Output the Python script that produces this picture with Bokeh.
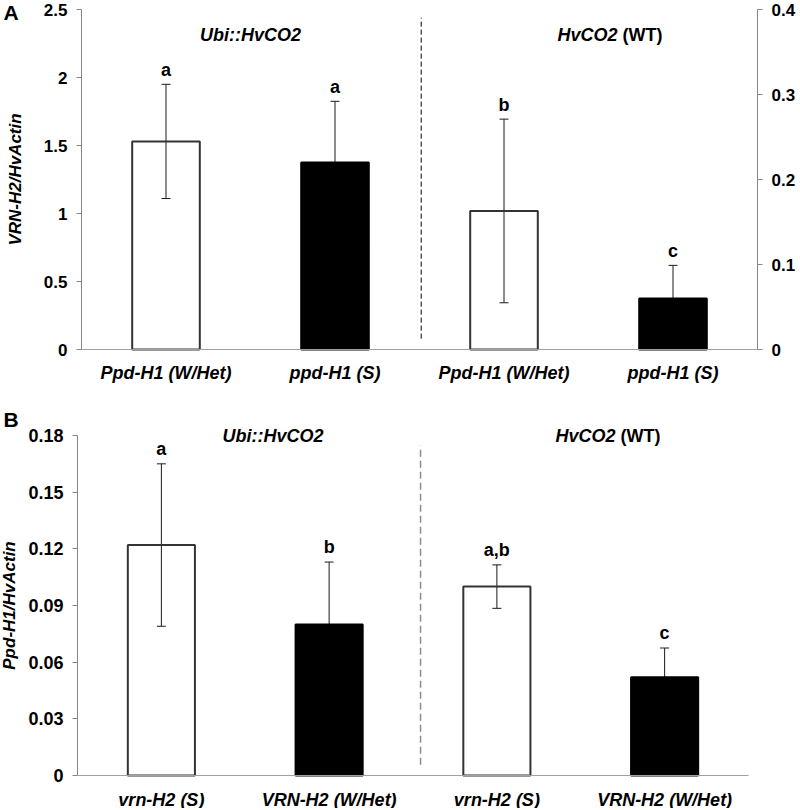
from bokeh.plotting import figure
from bokeh.models import (Range1d, LinearAxis, FixedTicker, ColumnDataSource,
                          Whisker, TeeHead, LabelSet, Label)
from bokeh.layouts import column
from bokeh.core.properties import value
from bokeh.embed import file_html
from bokeh.resources import INLINE

FONT = "Liberation Sans"

# ---------------- Panel A data ----------------
a_categories = ["Ppd-H1 (W/Het)", "ppd-H1 (S)", "Ppd-H1 (W/Het)", "ppd-H1 (S)"]
a_ubi_values = [1.53, 1.375]
a_ubi_errors = [0.42, 0.45]
a_ubi_letters = ["a", "a"]
a_wt_values = [0.163, 0.060]
a_wt_errors = [0.108, 0.039]
a_wt_letters = ["b", "c"]
a_left_ticks = [0, 0.5, 1, 1.5, 2, 2.5]
a_left_labels = ["0", "0.5", "1", "1.5", "2", "2.5"]
a_right_ticks = [0, 0.1, 0.2, 0.3, 0.4]
a_right_labels = ["0", "0.1", "0.2", "0.3", "0.4"]
a_ylabel = "VRN-H2/HvActin"

# ---------------- Panel B data ----------------
b_categories = ["vrn-H2 (S)", "VRN-H2 (W/Het)", "vrn-H2 (S)", "VRN-H2 (W/Het)"]
b_values = [0.122, 0.080, 0.100, 0.052]
b_errors = [0.043, 0.033, 0.0115, 0.0155]
b_letters = ["a", "b", "a,b", "c"]
b_ticks = [0, 0.03, 0.06, 0.09, 0.12, 0.15, 0.18]
b_labels = ["0", "0.03", "0.06", "0.09", "0.12", "0.15", "0.18"]
b_ylabel = "Ppd-H1/HvActin"

group_transgenic = "Ubi::HvCO2"
group_wt_gene = "HvCO2"
group_wt_suffix = "(WT)"

FILLS = [None, "black"]
OUTLINES = ["#333333", "black"]
AXIS_GRAY = "#868686"
W = 800


def fit_range(d0, d1, p0, p1, size):
    """Range whose data d0/d1 land on canvas pixels p0/p1 (pixels from the low end)."""
    k = (d1 - d0) / (p1 - p0)
    return Range1d(d0 - p0 * k, d0 + (size - p0) * k)


def style_y(ax, size, standoff):
    ax.axis_line_color = AXIS_GRAY
    ax.major_tick_line_color = AXIS_GRAY
    ax.major_tick_out = 5
    ax.major_tick_in = 0
    ax.minor_tick_line_color = None
    ax.major_label_text_font = FONT
    ax.major_label_text_font_style = "bold"
    ax.major_label_text_font_size = f"{size}px"
    ax.major_label_text_color = "black"
    ax.major_label_standoff = standoff


def make_panel(height, n_cats, x_px, y_px, y_end, ticks, labels, cats, cat_size, cat_standoff,
               ylabel, ylabel_standoff, tick_size):
    x_rng = fit_range(-0.5, n_cats - 0.5, x_px[0], x_px[1], W)
    y_rng = fit_range(0, y_end, height - y_px[0], height - y_px[1], height)
    p = figure(width=W, height=height, output_backend="svg", toolbar_location=None,
               x_range=x_rng, y_range=y_rng, x_axis_location=None, y_axis_location=None,
               min_border=0, title=None)
    p.xgrid.visible = False
    p.ygrid.visible = False
    p.outline_line_color = None
    p.background_fill_color = "white"
    p.border_fill_color = "white"

    ly = LinearAxis(fixed_location=-0.5, bounds=(0, y_end), ticker=FixedTicker(ticks=ticks))
    ly.major_label_overrides = dict(zip(ticks, labels))
    style_y(ly, tick_size, 9)
    ly.axis_label = ylabel
    ly.axis_label_text_font = FONT
    ly.axis_label_text_font_style = "bold italic"
    ly.axis_label_text_font_size = "17px"
    ly.axis_label_text_color = "black"
    ly.axis_label_standoff = ylabel_standoff
    p.add_layout(ly, "left")

    lx = LinearAxis(fixed_location=0, bounds=(-0.5, n_cats - 0.5),
                    ticker=FixedTicker(ticks=list(range(n_cats))))
    lx.major_label_overrides = {i: lab for i, lab in enumerate(cats)}
    lx.axis_line_color = "#a0a0a0"
    lx.major_tick_line_color = None
    lx.minor_tick_line_color = None
    lx.major_label_text_font = FONT
    lx.major_label_text_font_style = "bold italic"
    lx.major_label_text_font_size = f"{cat_size}px"
    lx.major_label_text_color = "black"
    lx.major_label_standoff = cat_standoff
    p.add_layout(lx, "below")
    return p


def add_bars(p, xs, vals, errs, letters, fs, letter_offset, range_name="default"):
    src = ColumnDataSource(dict(
        x=xs, top=vals,
        upper=[v + e for v, e in zip(vals, errs)],
        lower=[v - e for v, e in zip(vals, errs)],
        letter=letters,
        fill=[FILLS[i % 2] for i in xs],
        outline=[OUTLINES[i % 2] for i in xs],
    ))
    w = Whisker(source=src, base="x", upper="upper", lower="lower", dimension="height",
                line_color="#1a1a1a", line_width=1, level="underlay", y_range_name=range_name,
                upper_head=TeeHead(size=9, line_color="#1a1a1a", line_width=1),
                lower_head=TeeHead(size=9, line_color="#1a1a1a", line_width=1))
    p.add_layout(w)
    p.vbar(x="x", top="top", width=0.4, bottom=0, source=src, fill_color="fill",
           line_color="outline", line_width=2, y_range_name=range_name)
    ls = LabelSet(x="x", y="upper", text="letter", source=src, y_offset=letter_offset,
                  text_align="center", text_baseline="middle", y_range_name=range_name,
                  text_font=value(FONT), text_font_style="bold",
                  text_font_size=value(f"{fs}px"), text_color="black")
    p.add_layout(ls)


def add_group_titles(p, x_ubi, x_wt_join, y, fs):
    p.add_layout(Label(x=x_ubi, y=y, text=group_transgenic, text_align="center",
                       text_baseline="middle", text_font=FONT, text_font_style="bold italic",
                       text_font_size=f"{fs}px", text_color="black"))
    p.add_layout(Label(x=x_wt_join, y=y, text=group_wt_gene, text_align="right",
                       text_baseline="middle", text_font=FONT, text_font_style="bold italic",
                       text_font_size=f"{fs}px", text_color="black"))
    p.add_layout(Label(x=x_wt_join, y=y, x_offset=5, text=group_wt_suffix, text_align="left",
                       text_baseline="middle", text_font=FONT, text_font_style="bold",
                       text_font_size=f"{fs}px", text_color="black"))


def add_panel_letter(p, letter, x_px, y_px, height):
    xr, yr = p.x_range, p.y_range
    x = xr.start + (xr.end - xr.start) * x_px / W
    y = yr.start + (yr.end - yr.start) * (height - y_px) / height
    p.add_layout(Label(x=x, y=y, text=letter, text_align="left", text_baseline="middle",
                       text_font=FONT, text_font_style="bold", text_font_size="21px",
                       text_color="black"))


# ================= Panel A =================
HA = 388
pA = make_panel(HA, 4, (81, 757), (349, 9), a_left_ticks[-1], a_left_ticks, a_left_labels,
                a_categories, 18, 7, a_ylabel, 16, 17)
pA.extra_y_ranges = {"right": fit_range(0, a_right_ticks[-1], HA - 349, HA - 9, HA)}
ry = LinearAxis(y_range_name="right", fixed_location=3.5, bounds=(0, a_right_ticks[-1]),
                ticker=FixedTicker(ticks=a_right_ticks))
ry.major_label_overrides = dict(zip(a_right_ticks, a_right_labels))
style_y(ry, 17, 9)
pA.add_layout(ry, "right")

add_bars(pA, [0, 1], a_ubi_values, a_ubi_errors, a_ubi_letters, 18, 14)
add_bars(pA, [2, 3], a_wt_values, a_wt_errors, a_wt_letters, 18, 14, range_name="right")

pA.segment(x0=[1.51], y0=[0.08], x1=[1.51], y1=[2.44], line_color="black",
           line_width=1, line_dash="5 3")
add_group_titles(pA, 0.5, 2.672, 2.316, 18)
add_panel_letter(pA, "A", 3, 12, HA)

# ================= Panel B =================
HB = 420
pB = make_panel(HB, 4, (77, 748), (387, 47), b_ticks[-1], b_ticks, b_labels,
                b_categories, 18, 8, b_ylabel, 6, 18)

add_bars(pB, [0, 1, 2, 3], b_values, b_errors, b_letters, 18, 15)

pB.segment(x0=[1.545], y0=[0.0057], x1=[1.545], y1=[0.1747], line_color="#8c8c8c",
           line_width=1.5, line_dash="7 4")
add_group_titles(pB, 0.665, 2.707, 0.1800, 18)
add_panel_letter(pB, "B", 3, 31, HB)

layout = column(pA, pB, spacing=0)
open("out.html", "w").write(file_html(layout, INLINE))
